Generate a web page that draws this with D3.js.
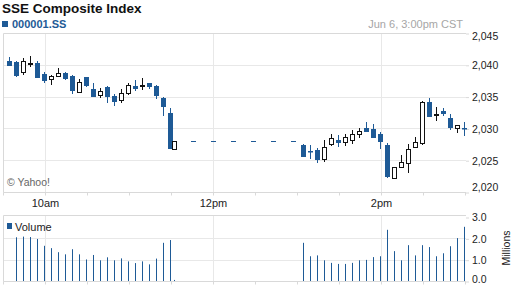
<!DOCTYPE html>
<html>
<head>
<meta charset="utf-8">
<script src="https://cdn.jsdelivr.net/npm/d3@7"></script>
<style>
  html, body { margin: 0; padding: 0; background: #fff; }
  svg { display: block; font-family: "Liberation Sans", Arial, sans-serif; }
</style>
</head>
<body>
<svg id="chart" width="512" height="288"></svg>
<script>
// 5 minute bars, stamped with bar end time
const times = [
  '9:35', '9:40', '9:45', '9:50', '9:55', '10:00', '10:05', '10:10', '10:15', '10:20',
  '10:25', '10:30', '10:35', '10:40', '10:45', '10:50', '10:55', '11:00', '11:05', '11:10',
  '11:15', '11:20', '11:25', '11:30', '11:33',
  '13:05', '13:10', '13:15', '13:20', '13:25', '13:30', '13:35', '13:40', '13:45', '13:50',
  '13:55', '14:00', '14:05', '14:10', '14:15', '14:20', '14:25', '14:30', '14:35', '14:40',
  '14:45', '14:50', '14:55', '15:00'
];
const opens = [
  2040.60, 2040.44, 2038.87, 2040.30, 2040.24, 2038.55, 2037.81, 2038.19, 2038.66, 2038.24,
  2035.77, 2038.03, 2036.19, 2035.30, 2036.56, 2035.09, 2034.47, 2035.61, 2036.71, 2036.80,
  2037.09, 2036.67, 2034.78, 2032.37, 2026.81,
  2027.39, 2026.52, 2026.60, 2025.14, 2027.55, 2028.18, 2027.81, 2028.13, 2029.07, 2030.11,
  2029.86, 2029.12, 2027.39, 2022.15, 2023.88, 2024.61, 2027.03, 2027.75, 2034.20, 2032.20,
  2032.74, 2031.59, 2030.02, 2030.04
];
const highs = [
  2041.23, 2040.52, 2041.07, 2041.38, 2040.60, 2038.87, 2038.44, 2039.45, 2038.79, 2038.40,
  2037.72, 2038.16, 2037.09, 2036.30, 2036.67, 2035.41, 2036.15, 2037.09, 2037.61, 2037.88,
  2037.19, 2036.75, 2034.86, 2033.16, 2028.02,
  2027.47, 2027.39, 2026.87, 2028.18, 2029.07, 2028.96, 2029.07, 2029.75, 2030.02, 2030.96,
  2030.64, 2029.36, 2027.75, 2023.98, 2025.82, 2027.55, 2028.70, 2034.23, 2034.73, 2033.32,
  2033.16, 2032.26, 2030.53, 2031.05
];
const lows = [
  2039.81, 2038.08, 2038.35, 2039.61, 2037.85, 2037.09, 2036.87, 2038.19, 2037.61, 2035.41,
  2035.61, 2036.51, 2034.94, 2034.78, 2033.95, 2033.57, 2034.04, 2035.30, 2035.83, 2036.04,
  2036.15, 2034.58, 2032.00, 2026.76, 2026.81,
  2025.50, 2025.19, 2024.51, 2024.76, 2027.23, 2027.12, 2027.28, 2027.59, 2028.44, 2029.43,
  2028.49, 2026.71, 2022.20, 2022.15, 2023.73, 2022.94, 2027.03, 2027.39, 2031.75, 2031.21,
  2031.95, 2029.75, 2029.23, 2028.85
];
const closes = [
  2039.81, 2038.24, 2040.60, 2040.35, 2037.92, 2037.50, 2038.24, 2038.71, 2037.77, 2035.83,
  2037.25, 2036.64, 2034.98, 2035.93, 2034.89, 2034.20, 2035.52, 2036.82, 2036.24, 2036.84,
  2036.56, 2035.09, 2033.32, 2026.76, 2028.02,
  2025.55, 2026.46, 2025.03, 2027.12, 2028.44, 2027.66, 2028.60, 2029.07, 2029.64, 2029.48,
  2028.54, 2027.91, 2022.31, 2023.98, 2024.67, 2026.71, 2027.81, 2034.20, 2031.75, 2032.24,
  2032.26, 2030.11, 2030.53, 2030.00
];
// millions of shares
const volumes = [
  0, 2.05, 2.08, 2.06, 1.97, 1.65, 1.54, 1.35, 1.25, 1.49,
  1.25, 1.01, 1.22, 0.97, 1.11, 0.97, 1.06, 0.92, 0.84, 0.92,
  0.78, 1.05, 1.79, 1.92, 0.05,
  1.79, 1.16, 1.20, 0.97, 0.85, 0.80, 0.80, 0.85, 0.97, 0.99,
  1.12, 1.16, 2.40, 1.40, 0.97, 1.68, 1.20, 1.68, 1.59, 1.16,
  1.30, 1.63, 2.01, 2.54
];
const lunchStart = '11:30';
const lunchEnd = '13:00';
const lunchPrice = 2028.02;

const priceTicks = [2020, 2025, 2030, 2035, 2040, 2045];
const volumeTicks = [0, 1, 2, 3];
const labelTimes = ['10:00', '12:00', '14:00'];
const labelNames = ['10am', '12pm', '2pm'];

const blue = '#1e5a96';
const gridColor = '#e8e8e8';
const frameColor = '#d9d9d9';

function toMin(s) {
  const parts = s.split(':').map(Number);
  return parts[0] * 60 + parts[1];
}

const svg = d3.select('#chart');
const left = 3, right = 466;
const x = d3.scaleLinear().domain([toMin('9:30'), toMin('15:00')]).range([3, 465]);
const y = d3.scaleLinear().domain([2020, 2045]).range([192, 33]);
const yv = d3.scaleLinear().domain([0, 3]).range([281, 217]);

const halfHours = d3.range(toMin('9:30'), toMin('15:00') + 1, 30);

// header
svg.append('text')
  .attr('x', 2).attr('y', 13)
  .style('font-size', '13.5px').style('font-weight', 'bold').attr('fill', '#111')
  .text('SSE Composite Index');
svg.append('rect')
  .attr('x', 2).attr('y', 21).attr('width', 6).attr('height', 6).attr('fill', blue);
svg.append('text')
  .attr('x', 12).attr('y', 28)
  .style('font-size', '11px').style('font-weight', 'bold').attr('fill', blue)
  .text('000001.SS');
svg.append('text')
  .attr('x', 463).attr('y', 28).attr('text-anchor', 'end')
  .style('font-size', '11px').attr('fill', '#a6a6a6')
  .text('Jun 6, 3:00pm CST');

// main panel grid
svg.append('g').selectAll('line')
  .data(priceTicks.filter((d) => d > 2020 && d < 2045))
  .join('line')
  .attr('x1', left).attr('x2', right)
  .attr('y1', (d) => Math.round(y(d)) + 0.5).attr('y2', (d) => Math.round(y(d)) + 0.5)
  .attr('stroke', gridColor);

function vGrid(top, bottom) {
  svg.append('g').selectAll('line')
    .data(labelTimes)
    .join('line')
    .attr('x1', (d) => Math.round(x(toMin(d))) + 0.5)
    .attr('x2', (d) => Math.round(x(toMin(d))) + 0.5)
    .attr('y1', top).attr('y2', bottom)
    .attr('stroke', gridColor);
}
vGrid(33, 192);

// frame lines
function frame(top, bottom) {
  svg.append('path')
    .attr('d', `M${right},${top + 0.5}H${left + 0.5}V${bottom + 0.5}H${right}`)
    .attr('fill', 'none').attr('stroke', frameColor);
}
frame(33, 192);

// time axis
const timeAxis = d3.axisBottom(x)
  .tickValues(halfHours)
  .tickSize(3).tickPadding(4)
  .tickFormat((d) => {
    const i = labelTimes.map(toMin).indexOf(d);
    return i >= 0 ? labelNames[i] : '';
  });
const tg = svg.append('g').attr('transform', 'translate(0,192.5)').call(timeAxis);
tg.select('.domain').remove();
tg.selectAll('line').attr('stroke', frameColor);
tg.selectAll('text').attr('fill', '#222').style('font-size', '11px').style('font-family', 'inherit');

// price axis
const priceAxis = d3.axisRight(y)
  .tickValues(priceTicks).tickSize(3).tickPadding(3)
  .tickFormat(d3.format(','));
const pg = svg.append('g').attr('transform', `translate(${right},0.5)`).call(priceAxis);
pg.select('.domain').remove();
pg.selectAll('line').attr('stroke', frameColor);
pg.selectAll('text').attr('fill', '#222').style('font-size', '10.5px').style('font-family', 'inherit');
pg.selectAll('text').filter((d) => d === 2045).attr('dy', '0.55em');
pg.selectAll('text').filter((d) => d === 2020).attr('dy', '-0.15em');

svg.append('text')
  .attr('x', 7).attr('y', 186)
  .style('font-size', '10.5px').attr('fill', '#666')
  .text('\u00a9 Yahoo!');

// lunch break line at last morning price
svg.append('line')
  .attr('x1', x(toMin(lunchStart))).attr('x2', x(toMin(lunchEnd)))
  .attr('y1', Math.round(y(lunchPrice)) + 0.5).attr('y2', Math.round(y(lunchPrice)) + 0.5)
  .attr('stroke', blue).attr('stroke-dasharray', '5,15');

// candles
const bars = times.map((t, i) => ({
  cx: Math.round(x(toMin(t)) - 1) + 0.5,
  o: opens[i], h: highs[i], l: lows[i], c: closes[i], v: volumes[i]
}));

const cg = svg.append('g');
bars.forEach((b) => {
  const up = b.c >= b.o;
  const col = up ? '#111' : blue;
  cg.append('line')
    .attr('x1', b.cx).attr('x2', b.cx)
    .attr('y1', Math.round(y(b.h))).attr('y2', Math.round(y(b.l)))
    .attr('stroke', col);
  const top = Math.round(y(Math.max(b.o, b.c)));
  const bot = Math.round(y(Math.min(b.o, b.c)));
  if (up) {
    const hgt = Math.max(bot - top, 1);
    cg.append('rect')
      .attr('x', b.cx - 2).attr('y', top + 0.5)
      .attr('width', 4).attr('height', hgt)
      .attr('fill', '#fff').attr('stroke', col);
  } else {
    cg.append('rect')
      .attr('x', b.cx - 2.5).attr('y', top)
      .attr('width', 5).attr('height', Math.max(bot - top, 1.5))
      .attr('fill', col);
  }
});

// volume panel
svg.append('g').selectAll('line')
  .data(volumeTicks.filter((d) => d > 0 && d < 3))
  .join('line')
  .attr('x1', left).attr('x2', right)
  .attr('y1', (d) => Math.round(yv(d)) + 0.5).attr('y2', (d) => Math.round(yv(d)) + 0.5)
  .attr('stroke', gridColor);
vGrid(215, 281);
frame(215, 281);

const vt = svg.append('g').attr('transform', 'translate(0,281.5)')
  .call(d3.axisBottom(x).tickValues(halfHours).tickSize(3).tickFormat(''));
vt.select('.domain').remove();
vt.selectAll('line').attr('stroke', frameColor);

const va = svg.append('g').attr('transform', `translate(${right},0.5)`)
  .call(d3.axisRight(yv).tickValues(volumeTicks).tickSize(3).tickPadding(3).tickFormat(d3.format('.1f')));
va.select('.domain').remove();
va.selectAll('line').attr('stroke', frameColor);
va.selectAll('text').attr('fill', '#222').style('font-size', '10.5px').style('font-family', 'inherit');
va.selectAll('text').filter((d) => d === 0).attr('dy', '0.05em');

svg.append('g').selectAll('line')
  .data(bars.filter((b) => b.v > 0))
  .join('line')
  .attr('x1', (b) => b.cx).attr('x2', (b) => b.cx)
  .attr('y1', yv(0)).attr('y2', (b) => yv(b.v))
  .attr('stroke', blue);

svg.append('rect')
  .attr('x', 7).attr('y', 223).attr('width', 5).attr('height', 6).attr('fill', blue);
svg.append('text')
  .attr('x', 15).attr('y', 231)
  .style('font-size', '11px').attr('fill', '#222')
  .text('Volume');

svg.append('text')
  .attr('transform', 'translate(510,248) rotate(-90)')
  .attr('text-anchor', 'middle')
  .style('font-size', '10.5px').attr('fill', '#222')
  .text('Millions');
</script>
</body>
</html>
